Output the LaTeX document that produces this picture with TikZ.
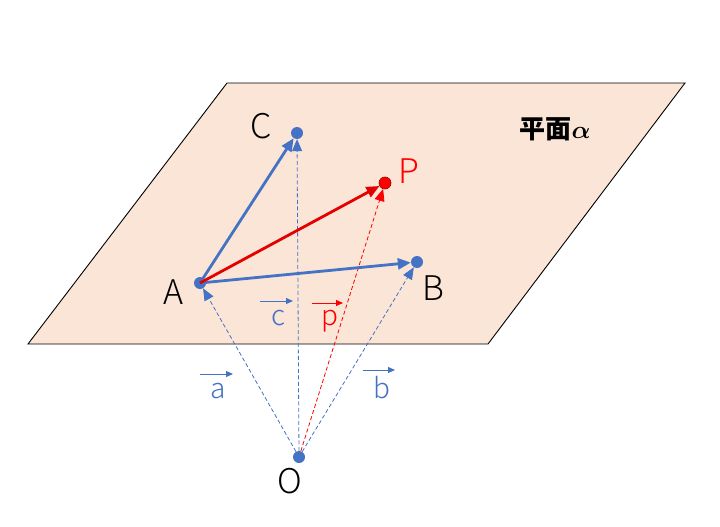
\documentclass[tikz,border=0pt]{standalone}
\usepackage{fontspec}
\usepackage{amsmath}
\setmainfont{Noto Sans CJK JP}
\newfontfamily\lightfont{Noto Sans CJK JP Light}
\usetikzlibrary{arrows.meta}

\definecolor{vecblue}{RGB}{68,114,196}
\definecolor{vecred}{RGB}{255,0,0}
\definecolor{planefill}{RGB}{251,229,214}

\tikzset{
  pt/.style={circle,fill=vecblue,inner sep=0pt,minimum size=12pt},
  thickvec/.style={line width=2.8pt,-{Triangle[length=13pt,width=11pt]}},
  dashvec/.style={line width=0.8pt,dash pattern=on 4pt off 2.5pt,-{Triangle[length=12pt,width=10pt]}},
  smallvec/.style={line width=1pt,-{Triangle[length=7pt,width=6pt]}},
  lbl/.style={font=\lightfont\fontsize{34}{40}\selectfont},
  vlbl/.style={font=\lightfont\fontsize{28}{32}\selectfont,anchor=base},
}

\begin{document}
\begin{tikzpicture}[x=1pt,y=1pt,yscale=-1]
\useasboundingbox (0,0) rectangle (720,527);

%Plane
\draw [fill=planefill,line width=0.9pt] (227,83) -- (685,83) -- (488,344) -- (28,344) -- cycle ;

%Points
\node [pt] (A) at (200,283) {};
\node [pt] (B) at (417,262) {};
\node [pt] (C) at (297,133) {};
\node [pt,fill=vecred,draw=red!60!black,line width=0.6pt] (P) at (385,183) {};
\node [pt] (O) at (299,457) {};

%Vectors from O
\draw [dashvec,vecblue] (O) -- (A) ;
\draw [dashvec,vecblue] (O) -- (B) ;
\draw [dashvec,vecblue] (O) -- (C) ;
\draw [dashvec,vecred] (O) -- (P) ;

%Vectors from A
\draw [thickvec,vecblue] (A.center) -- (C) ;
\draw [thickvec,vecblue] (A.center) -- (B) ;
\draw [thickvec,red!90!black] (A.center) -- (P) ;

% Text Node
\node [lbl] (Alab) at (173,292) {A};
\node [lbl] (Blab) at (433,288) {B};
\node [lbl] (Clab) at (261,126) {C};
\node [lbl,text=vecred] (Plab) at (409,171) {P};
\node [lbl] (Olab) at (290,481) {O};
\node [font=\fontsize{26}{30}\selectfont\bfseries] (planelab) at (555,129) {平面$\boldsymbol{\alpha}$};

% Vector names
\node [vlbl,text=vecblue] (alab) at (218,398) {a};
\node [vlbl,text=vecblue] (blab) at (382,398) {b};
\node [vlbl,text=vecblue] (clab) at (278,325) {c};
\node [vlbl,text=vecred] (plab) at (330,325) {p};

\coordinate (a1) at (200,374); \coordinate (a2) at (233,374);
\coordinate (b1) at (363,370); \coordinate (b2) at (395,370);
\coordinate (c1) at (260,301); \coordinate (c2) at (293,301);
\coordinate (p1) at (312,303); \coordinate (p2) at (343,303);
\draw [smallvec,vecblue] (a1) -- (a2) ;
\draw [smallvec,vecblue] (b1) -- (b2) ;
\draw [smallvec,vecblue] (c1) -- (c2) ;
\draw [smallvec,vecred] (p1) -- (p2) ;

\end{tikzpicture}
\end{document}
